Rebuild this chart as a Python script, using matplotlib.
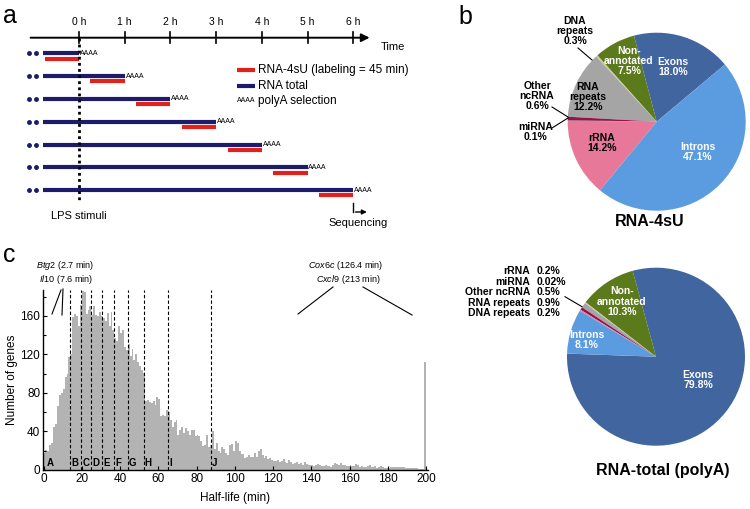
import matplotlib
matplotlib.use("Agg")
import matplotlib.pyplot as plt
from matplotlib.lines import Line2D

plt.rcParams['font.family'] = ['Liberation Sans', 'DejaVu Sans']
plt.rcParams['mathtext.fontset'] = 'custom'
plt.rcParams['mathtext.it'] = 'Liberation Sans:italic'
plt.rcParams['mathtext.rm'] = 'Liberation Sans'

W, H = 750, 509

# ---- data ----
# panel a: sampling times after LPS (h) and labeling length (h)
sample_times = [0, 1, 2, 3, 4, 5, 6]
labeling_h = 0.75
total_start_h = -0.78

# panel b: read composition (%)
pie_labels = ['Exons', 'Non-annotated', 'DNA repeats', 'RNA repeats',
              'Other ncRNA', 'miRNA', 'rRNA', 'Introns']
pie_4su = [18.0, 7.5, 0.3, 12.2, 0.6, 0.1, 14.2, 47.1]
pie_total = [79.8, 10.3, 0.2, 0.9, 0.5, 0.02, 0.2, 8.1]
pie_colors = ['#41659e', '#5b7a1c', '#c8c8a0', '#a5a5a5',
              '#9a1048', '#5c0f30', '#e8789a', '#5b9be0']

# panel c: half-life histogram, 1-min bins from 0 to 200 (last bin = >=199)
halflife_counts = [
    18, 21, 20, 26, 28, 45, 48, 67, 78, 80,
    84, 97, 100, 117, 120, 159, 162, 160, 150, 171,
    186, 185, 162, 166, 170, 161, 170, 161, 160, 164,
    160, 158, 155, 163, 150, 164, 145, 137, 134, 150,
    142, 145, 128, 125, 131, 118, 126, 114, 120, 112,
    108, 104, 101, 72, 73, 71, 70, 72, 68, 76,
    74, 56, 57, 56, 62, 60, 52, 45, 50, 52,
    36, 42, 45, 38, 44, 40, 36, 42, 42, 35,
    36, 35, 30, 25, 26, 36, 24, 26, 40, 22,
    28, 20, 18, 24, 22, 18, 16, 26, 27, 20,
    30, 28, 20, 17, 17, 12, 14, 16, 13, 13,
    18, 14, 20, 22, 16, 12, 15, 11, 12, 10,
    9, 9, 10, 8, 9, 11, 8, 7, 10, 8,
    6, 7, 8, 6, 7, 5, 8, 6, 5, 5,
    5, 4, 5, 6, 5, 4, 4, 5, 4, 4,
    3, 5, 7, 6, 5, 7, 5, 5, 4, 4,
    5, 4, 4, 6, 5, 3, 4, 3, 3, 4,
    5, 3, 3, 4, 2, 3, 4, 3, 2, 2,
    2, 3, 3, 3, 3, 3, 3, 3, 3, 2,
    2, 2, 2, 2, 2, 2, 1, 1, 1, 112,
]
cluster_bounds = [13.8, 19.7, 24.8, 30.6, 36.9, 44.1, 52.3, 65.3, 87.5]
cluster_names = ['A', 'B', 'C', 'D', 'E', 'F', 'G', 'H', 'I', 'J']


def fx(x):
    return x / W


def fy(y):
    return 1 - y / H


def ftext(x, y, s, **kw):
    fig.text(fx(x), fy(y), s, **kw)


def fline(x0, y0, x1, y1, **kw):
    fig.add_artist(Line2D([fx(x0), fx(x1)], [fy(y0), fy(y1)],
                          transform=fig.transFigure, color='black', lw=0.8, **kw))


fig = plt.figure(figsize=(W / 100, H / 100), dpi=100)

# ---------------- panel a ----------------
px_per_h = 45.7
x0h = 79
axa = fig.add_axes([0, fy(240), 400 / W, 240 / H])
axa.set_xlim(-x0h / px_per_h, (400 - x0h) / px_per_h)
axa.set_ylim(240, 0)
axa.set_axis_off()

navy = '#1c1c6b'
red = '#e3211c'
axa.annotate('', xy=(6.42, 37.7), xytext=(-1.12, 37.7),
             arrowprops=dict(arrowstyle='-|>', color='black', lw=1.4,
                             mutation_scale=12))
for t in sample_times:
    axa.plot([t, t], [32, 43], color='black', lw=1.2)
    axa.text(t, 27, f'{t} h', ha='center', va='bottom', fontsize=7.5)
axa.text(6.6, 47, 'Time', ha='left', va='center', fontsize=8)

axa.plot([0, 0], [38, 200], color='black', lw=2, ls=(0, (1, 1.2)), zorder=5)

for i, t in enumerate(sample_times):
    yrow = 53.3 + 22.8 * i
    axa.plot([total_start_h, t], [yrow, yrow], color=navy, lw=3,
             solid_capstyle='butt')
    axa.plot([max(t - labeling_h, total_start_h), t], [yrow + 5.3, yrow + 5.3],
             color=red, lw=3, solid_capstyle='butt')
    axa.text(t + 0.02, yrow, 'AAAA', fontsize=5, va='center', ha='left')
    axa.plot([-1.1, -0.93], [yrow, yrow], ls='none', marker='o',
             ms=2.5, color=navy)

# legend
axa.plot([3.46, 3.85], [70, 70], color=red, lw=3, solid_capstyle='butt')
axa.text(3.92, 70, 'RNA-4sU (labeling = 45 min)', fontsize=8.5, va='center')
axa.plot([3.46, 3.85], [85.7, 85.7], color=navy, lw=3, solid_capstyle='butt')
axa.text(3.92, 85.7, 'RNA total', fontsize=8.5, va='center')
axa.text(3.46, 101, 'AAAA', fontsize=5, va='center')
axa.text(3.92, 101, 'polyA selection', fontsize=8.5, va='center')

axa.text(0, 216, 'LPS stimuli', ha='center', va='center', fontsize=8)
axa.text(6.1, 223, 'Sequencing', ha='center', va='center', fontsize=8)
axa.plot([6.0, 6.0], [203, 212], color='black', lw=1)
axa.annotate('', xy=(6.36, 212), xytext=(5.99, 212),
             arrowprops=dict(arrowstyle='-|>', color='black', lw=1,
                             mutation_scale=7))

# ---------------- panel b ----------------
R = 89


def pie_axes(cx, cy):
    ax = fig.add_axes([fx(cx - R), fy(cy + R), 2 * R / W, 2 * R / H])
    return ax


bold = dict(fontsize=7.5, fontweight='bold', ha='center', va='center',
            linespacing=1.05)

ax1 = pie_axes(656.7, 121.7)
ax1.pie(pie_4su, colors=pie_colors, startangle=40, counterclock=True,
        wedgeprops=dict(linewidth=0))
ax1.set_xlim(-1, 1)
ax1.set_ylim(-1, 1)
ax1.set_aspect('equal')
ax1.axis('off')

ftext(673, 67, 'Exons\n18.0%', color='white', **bold)
ftext(698, 152, 'Introns\n47.1%', color='white', **bold)
ftext(602, 143, 'rRNA\n14.2%', color='black', **bold)
ftext(588, 97, 'RNA\nrepeats\n12.2%', color='black', **bold)
ftext(629, 61, 'Non-\nannotated\n7.5%', color='white', **bold)
ftext(575, 31, 'DNA\nrepeats\n0.3%', color='black', **bold)
ftext(537, 96, 'Other\nncRNA\n0.6%', color='black', **bold)
ftext(536, 132, 'miRNA\n0.1%', color='black', **bold)
fline(578, 48, 592, 60)
fline(552, 107, 568, 117)
fline(552, 128, 568, 118)
ftext(650, 222, 'RNA-4sU', fontsize=11.5, fontweight='bold',
      ha='center', va='center')

ax2 = pie_axes(656, 356.7)
ax2.pie(pie_total, colors=pie_colors, startangle=178, counterclock=True,
        wedgeprops=dict(linewidth=0))
ax2.set_xlim(-1, 1)
ax2.set_ylim(-1, 1)
ax2.set_aspect('equal')
ax2.axis('off')

ftext(621.7, 301.7, 'Non-\nannotated\n10.3%', color='white', **bold)
ftext(587, 340, 'Introns\n8.1%', color='white', **bold)
ftext(698, 380, 'Exons\n79.8%', color='white', **bold)
small = ['rRNA', 'miRNA', 'Other ncRNA', 'RNA repeats', 'DNA repeats']
small_vals = ['0.2%', '0.02%', '0.5%', '0.9%', '0.2%']
for k, (nm, v) in enumerate(zip(small, small_vals)):
    yk = 271 + 10.6 * k
    ftext(530, yk, nm, fontsize=7.5, fontweight='bold', ha='right', va='center')
    ftext(537, yk, v, fontsize=7.5, fontweight='bold', ha='left', va='center')
fline(565, 296.7, 582, 306.7)
ftext(663, 470, 'RNA-total (polyA)', fontsize=11.5, fontweight='bold',
      ha='center', va='center')

# ---------------- panel c ----------------
axc = fig.add_axes([fx(43), fy(470), 385 / W, 180 / H])
bins_left = list(range(len(halflife_counts)))
axc.bar(bins_left, halflife_counts, width=1, align='edge', color='#b3b3b3',
        linewidth=0)
axc.set_xlim(-0.3, 201)
axc.set_ylim(0, 187)
axc.spines['top'].set_visible(False)
axc.spines['right'].set_visible(False)
for s in ('left', 'bottom'):
    axc.spines[s].set_linewidth(1.0)
axc.set_xticks(range(0, 201, 20))
axc.set_yticks(range(0, 161, 40))
axc.set_yticks(range(20, 181, 40), minor=True)
axc.tick_params(axis='both', direction='in', labelsize=8.5, length=3,
                width=0.8, pad=2)
axc.tick_params(axis='y', which='minor', direction='in', length=2, width=0.8)
axc.set_ylabel('Number of genes', fontsize=8.5, labelpad=2)
axc.set_xlabel('Half-life (min)', fontsize=8.5, labelpad=5)

for b in cluster_bounds:
    axc.plot([b, b], [0, 187], color='black', lw=0.8, ls=(0, (3, 2)))
label_x = [1.5] + [b + 0.6 for b in cluster_bounds]
for lx, nm in zip(label_x, cluster_names):
    axc.text(lx, 2, nm, fontsize=7, fontweight='bold', ha='left', va='bottom')

ftext(65, 265, r'$\it{Btg2}$ (2.7 min)', fontsize=6.5, ha='center', va='center')
ftext(66, 279, r'$\it{Il10}$ (7.6 min)', fontsize=6.5, ha='center', va='center')
fline(61, 290, 52, 314)
fline(63, 289, 62, 315)
ftext(345, 266, r'$\it{Cox6c}$ (126.4 min)', fontsize=6.5, ha='center', va='center')
ftext(348, 280, r'$\it{Cxcl9}$ (213 min)', fontsize=6.5, ha='center', va='center')
fline(333, 287, 298, 314)
fline(363, 287, 412, 315)

# panel letters
ftext(3, 16, 'a', fontsize=18, va='center', ha='left')
ftext(458, 17, 'b', fontsize=18, va='center', ha='left')
ftext(3, 255, 'c', fontsize=18, va='center', ha='left')

fig.savefig('out.png', dpi=100)
